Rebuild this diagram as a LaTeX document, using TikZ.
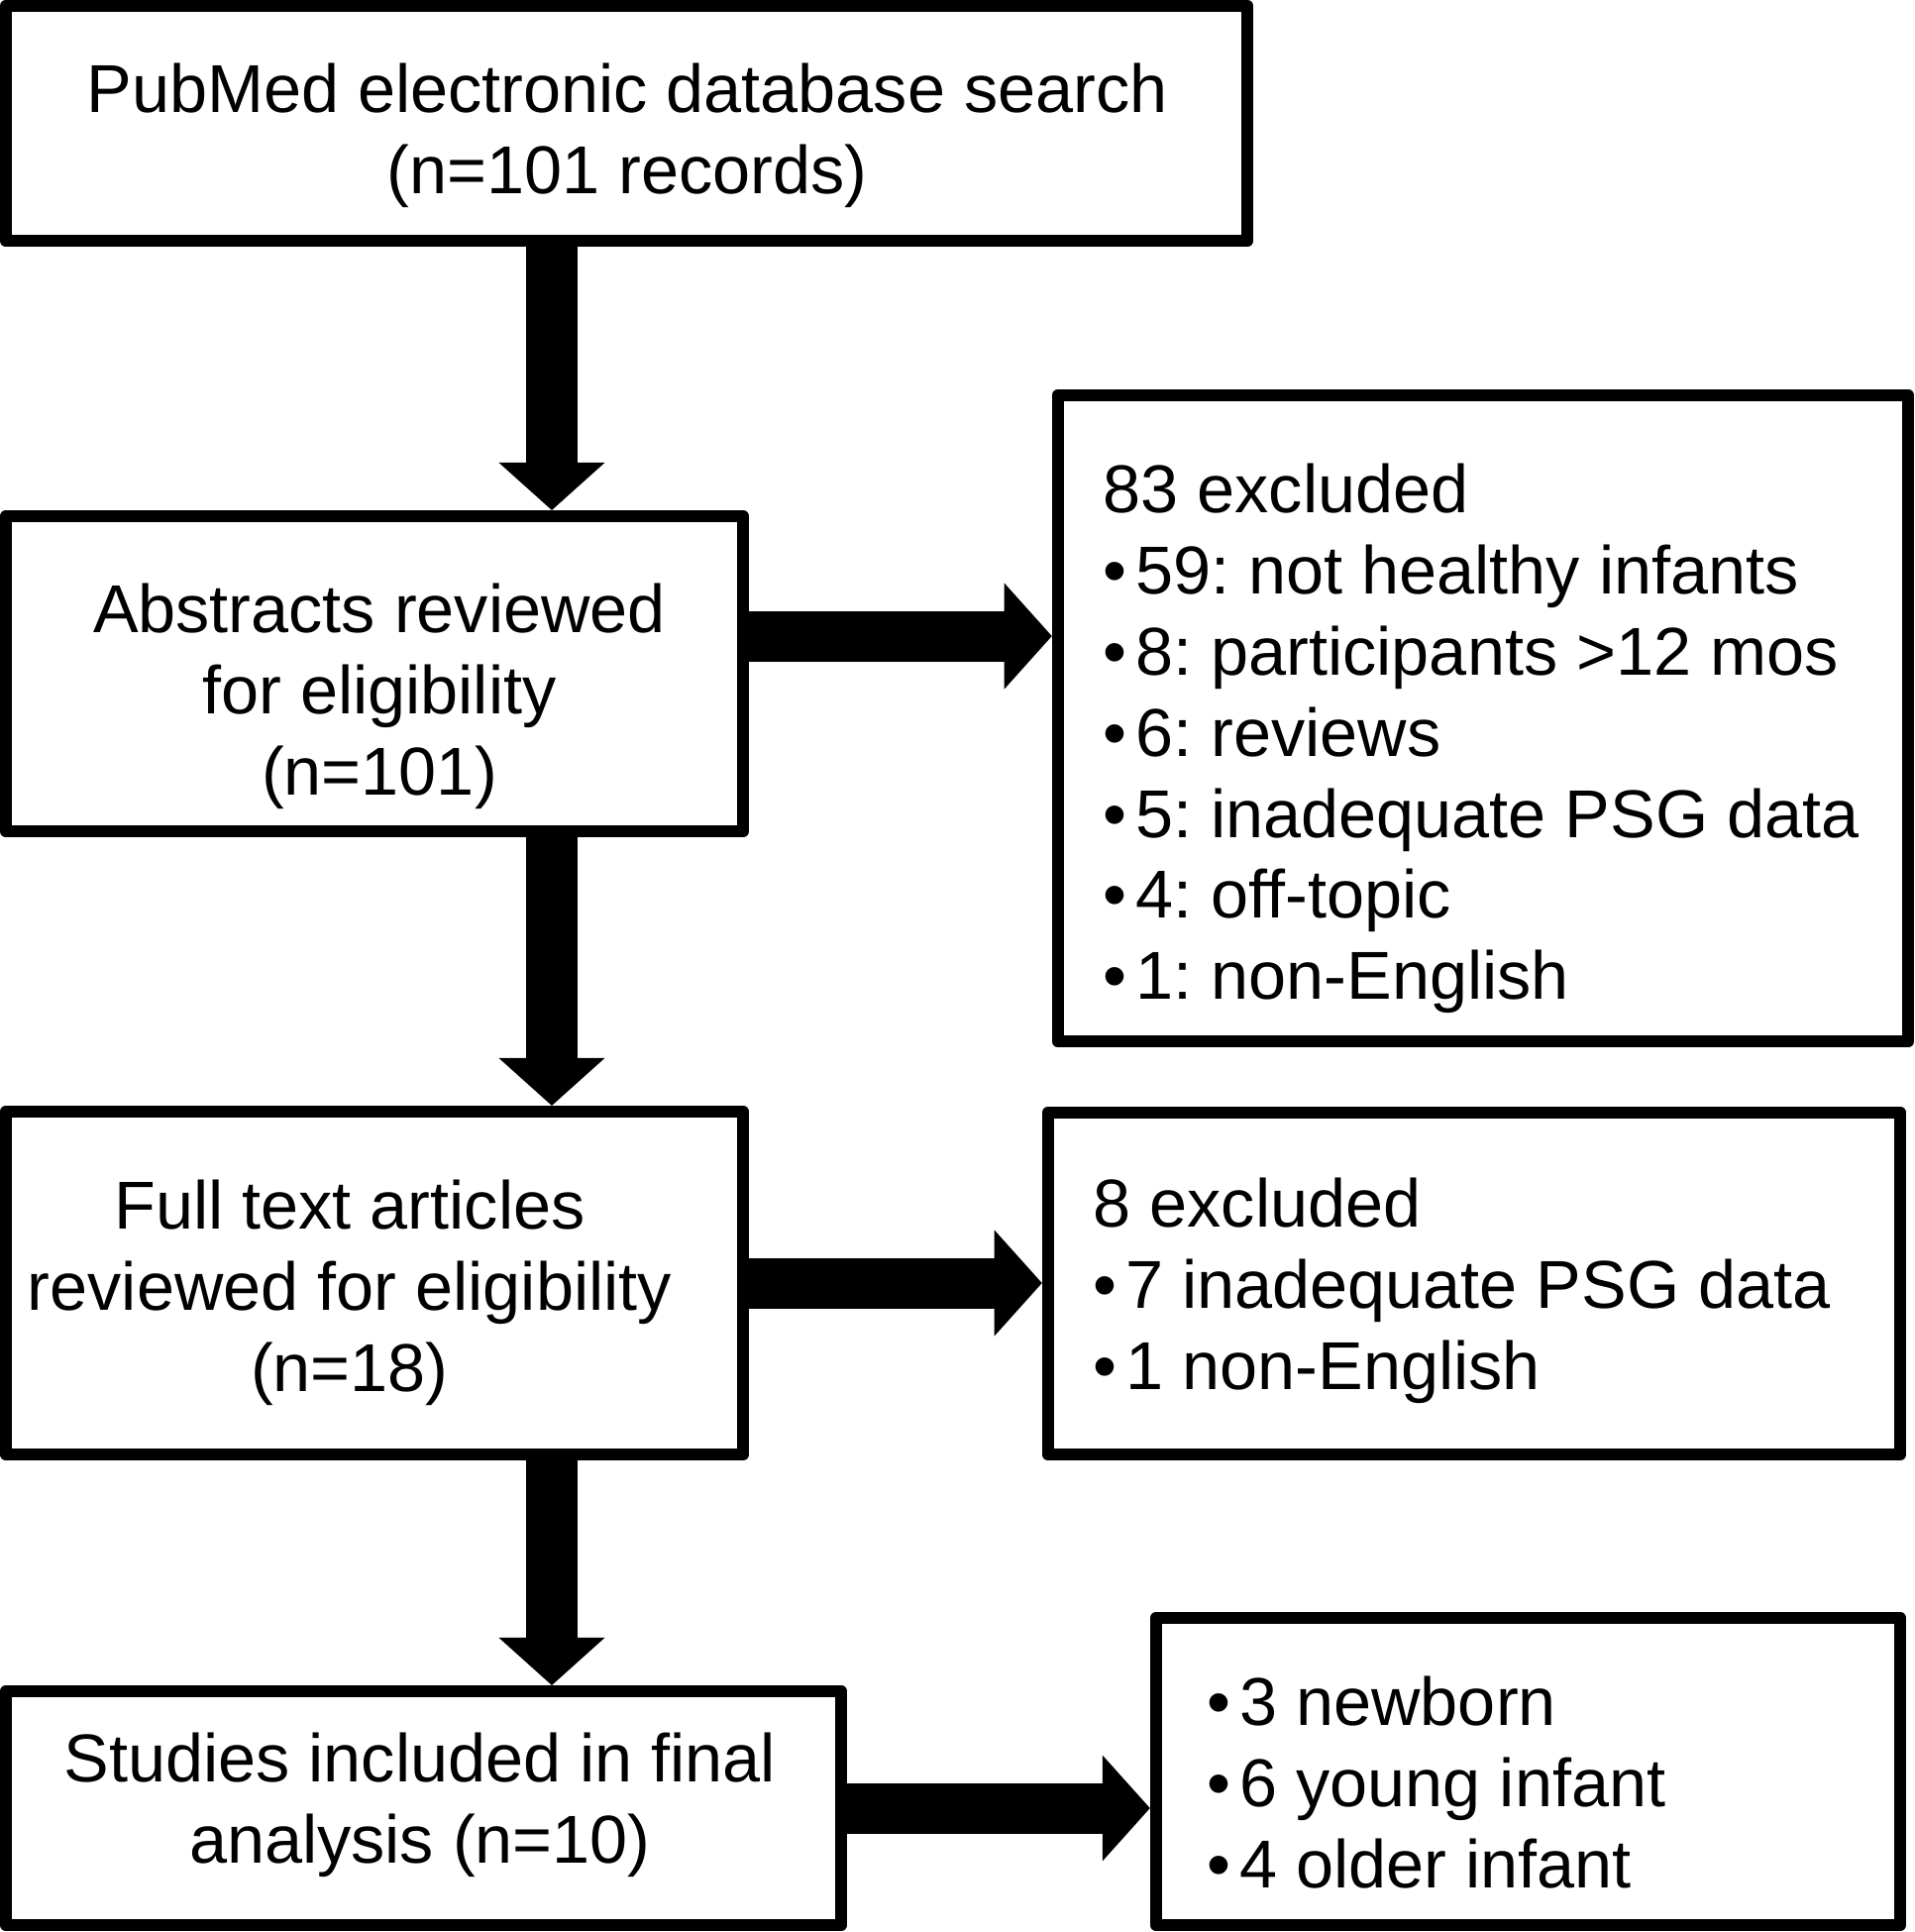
\documentclass[tikz,border=0pt]{standalone}
\usepackage{fontspec}
\setmainfont{Liberation Sans}
\usetikzlibrary{arrows.meta}

\tikzset{
  box/.style={draw, line width=0.12cm, line join=round, inner sep=0pt},
  boxtext/.style={inner sep=0pt, font=\fontsize{19.45pt}{23.3pt}\selectfont\frenchspacing},
  flow/.style={line width=0.51cm, -{Triangle[length=0.48cm, width=1.07cm, line width=0pt]}},
}
\newcommand{\itm}{\textbullet\hspace{0.13em}}

\begin{document}
\begin{tikzpicture}[x=0.01cm, y=-0.01cm]
  \useasboundingbox (0,0) rectangle (1933,1950);
  % boxes
  \node[box, minimum width=12.53cm, minimum height=2.37cm] (search) at (632.5,124.5) {};
  \node[box, minimum width=7.44cm, minimum height=3.18cm] (abs) at (378,680) {};
  \node[box, minimum width=8.58cm, minimum height=6.52cm] (ex1) at (1497,725) {};
  \node[box, minimum width=7.44cm, minimum height=3.46cm] (full) at (378,1295) {};
  \node[box, minimum width=8.60cm, minimum height=3.45cm] (ex2) at (1488,1295.5) {};
  \node[box, minimum width=8.43cm, minimum height=2.36cm] (final) at (427.5,1825) {};
  \node[box, minimum width=7.51cm, minimum height=3.10cm] (grp) at (1542.5,1788) {};
  % texts
  \node[boxtext, align=center, anchor=north] (searchtxt) at (633,63)
    {PubMed electronic database search\\(n=101 records)};
  \node[boxtext, align=center, anchor=north] (abstxt) at (383,588)
    {Abstracts reviewed\\for eligibility\\(n=101)};
  \node[boxtext, align=center, anchor=north] (fulltxt) at (353,1190)
    {Full text articles\\reviewed for eligibility\\(n=18)};
  \node[boxtext, align=center, anchor=north] (finaltxt) at (424,1748)
    {Studies included in final\\analysis (n=10)};
  \node[boxtext, align=left, anchor=north west] (ex1txt) at (1113,467)
    {83 excluded\\\itm 59: not healthy infants\\\itm 8: participants >12 mos\\\itm 6: reviews\\
     \itm 5: inadequate PSG data\\\itm 4: off-topic\\\itm 1: non-English};
  \node[boxtext, align=left, anchor=north west] (ex2txt) at (1103,1188)
    {8 excluded\\\itm 7 inadequate PSG data\\\itm 1 non-English};
  \node[boxtext, align=left, anchor=north west] (grptxt) at (1218,1691)
    {\itm 3 newborn\\\itm 6 young infant\\\itm 4 older infant};
  % arrows
  \coordinate (col) at (557,0);
  \coordinate (row) at (0,642);
  \draw[flow] (search.south -| col) -- (abs.north -| col);
  \draw[flow] (abs.south -| col) -- (full.north -| col);
  \draw[flow] (full.south -| col) -- (final.north -| col);
  \draw[flow] (abs.east |- row) -- (ex1.west |- row);
  \draw[flow] (full.east) -- (full.east -| ex2.west);
  \draw[flow] (final.east) -- (final.east -| grp.west);
\end{tikzpicture}
\end{document}
